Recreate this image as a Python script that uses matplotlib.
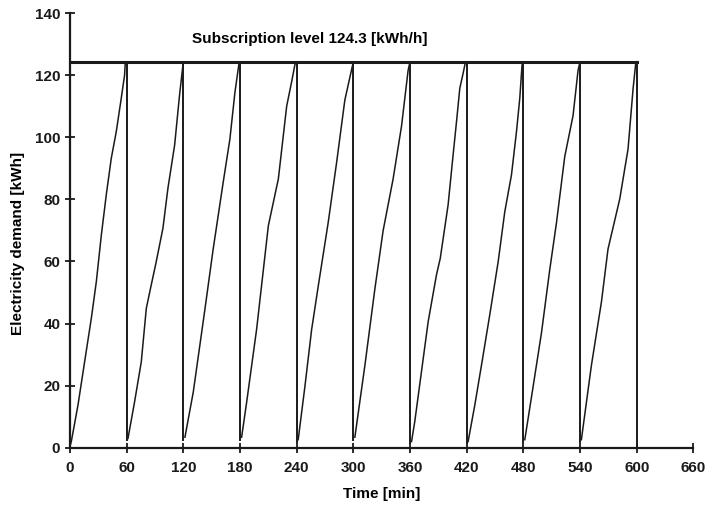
import numpy as np
import matplotlib
matplotlib.use("Agg")
import matplotlib.pyplot as plt

plt.rcParams['font.family'] = ['Liberation Sans', 'DejaVu Sans']
plt.rcParams['font.weight'] = 'bold'

subscription_level = 124.3
hour_ends = [60, 120, 180, 240, 300, 360, 420, 480, 540, 600]
# bottom of the drop at each hour boundary
drop_bottoms = [2.5, 2.5, 2.5, 2.0, 2.5, 1.5, 1.5, 2.0, 2.0, 0.0]

# cumulative demand within each hour: (time [min], demand [kWh])
cycle_t = [
    [0, 1.4, 8.5, 15.5, 22.6, 27.9, 33.2, 38.4, 43.7, 49.0, 54.3, 57.8, 58.5],
    [61.4, 68.4, 75.5, 80.8, 86.0, 91.3, 98.4, 103.7, 110.8, 116.0, 119.6],
    [121.7, 130.5, 142.9, 151.6, 162.2, 169.3, 174.6, 178.8],
    [181.7, 187.0, 197.6, 210.0, 220.6, 229.4, 234.6, 238.2],
    [241.6, 248.7, 255.8, 262.8, 273.3, 282.2, 291.0, 298.0],
    [301.6, 312.2, 322.8, 331.5, 342.1, 351.0, 358.0],
    [361.6, 365.0, 372.1, 379.2, 388.0, 392.0, 400.3, 405.6, 409.2, 412.7, 416.5, 418.5],
    [421.5, 428.6, 435.7, 444.4, 453.3, 460.3, 467.4, 472.7, 476.2, 478.6],
    [481.5, 490.3, 499.1, 507.9, 515.0, 523.8, 532.6, 537.9],
    [541.4, 552.0, 562.6, 569.6, 582.0, 590.8, 596.1, 599.0],
]
cycle_y = [
    [0.5, 2.0, 13.8, 27.7, 41.7, 53.5, 68.5, 81.4, 93.2, 101.8, 112.6, 120.0, 123.8],
    [3.0, 14.8, 27.7, 44.9, 52.4, 59.9, 70.7, 83.6, 97.5, 113.6, 123.3],
    [3.4, 17.9, 44.7, 64.0, 85.5, 99.4, 114.4, 123.5],
    [3.4, 14.6, 38.2, 71.5, 86.6, 110.0, 117.8, 123.5],
    [2.6, 19.7, 38.0, 52.0, 72.4, 91.7, 112.0, 121.6],
    [3.4, 26.5, 51.2, 69.9, 86.6, 103.6, 121.6],
    [2.0, 8.4, 24.5, 40.6, 55.7, 61.0, 78.2, 94.3, 105.0, 115.8, 121.0, 124.0],
    [2.0, 13.8, 26.7, 42.8, 59.9, 76.0, 87.9, 101.8, 112.6, 123.3],
    [2.6, 19.7, 36.9, 57.3, 72.4, 93.8, 107.0, 121.6],
    [2.6, 26.5, 46.9, 64.0, 80.1, 96.2, 115.5, 124.0],
]

fig = plt.figure(figsize=(7.09, 5.07), dpi=100)
ax = fig.add_axes([0.0987, 0.1168, 0.8793, 0.8574])

# ramps
for i in range(len(cycle_t)):
    ax.plot(cycle_t[i] + [hour_ends[i]], cycle_y[i] + [subscription_level],
            color='#1a1a1a', lw=1.1)

# drops at the end of each hour
for i in range(len(hour_ends)):
    ax.plot([hour_ends[i], hour_ends[i]], [subscription_level, drop_bottoms[i]],
            color='#1a1a1a', lw=1.4)

# subscription level
ax.plot([0, 600], [subscription_level, subscription_level], color='#1a1a1a', lw=2.2)
ax.text(254, 131.5, "Subscription level 124.3 [kWh/h]", ha='center', va='center',
        fontsize=11, fontweight='bold')

ax.set_xlim(0, 660)
ax.set_ylim(0, 140)
ax.set_xticks(np.arange(0, 661, 60))
ax.set_yticks(np.arange(0, 141, 20))
ax.set_xlabel("Time [min]", fontsize=11, fontweight='bold', labelpad=9)
ax.set_ylabel("Electricity demand [kWh]", fontsize=11, fontweight='bold')
ax.yaxis.set_label_coords(-0.072, 0.47)

ax.spines['top'].set_visible(False)
ax.spines['right'].set_visible(False)
ax.spines['left'].set_linewidth(1.6)
ax.spines['bottom'].set_linewidth(1.6)
ax.spines['left'].set_color('#1a1a1a')
ax.spines['bottom'].set_color('#1a1a1a')
ax.tick_params(direction='inout', length=7, width=1.3, labelsize=11, colors='#1a1a1a')
ax.tick_params(axis='x', pad=6)
for lab in ax.get_xticklabels() + ax.get_yticklabels():
    lab.set_fontweight('bold')

fig.savefig("out.png", dpi=100)
